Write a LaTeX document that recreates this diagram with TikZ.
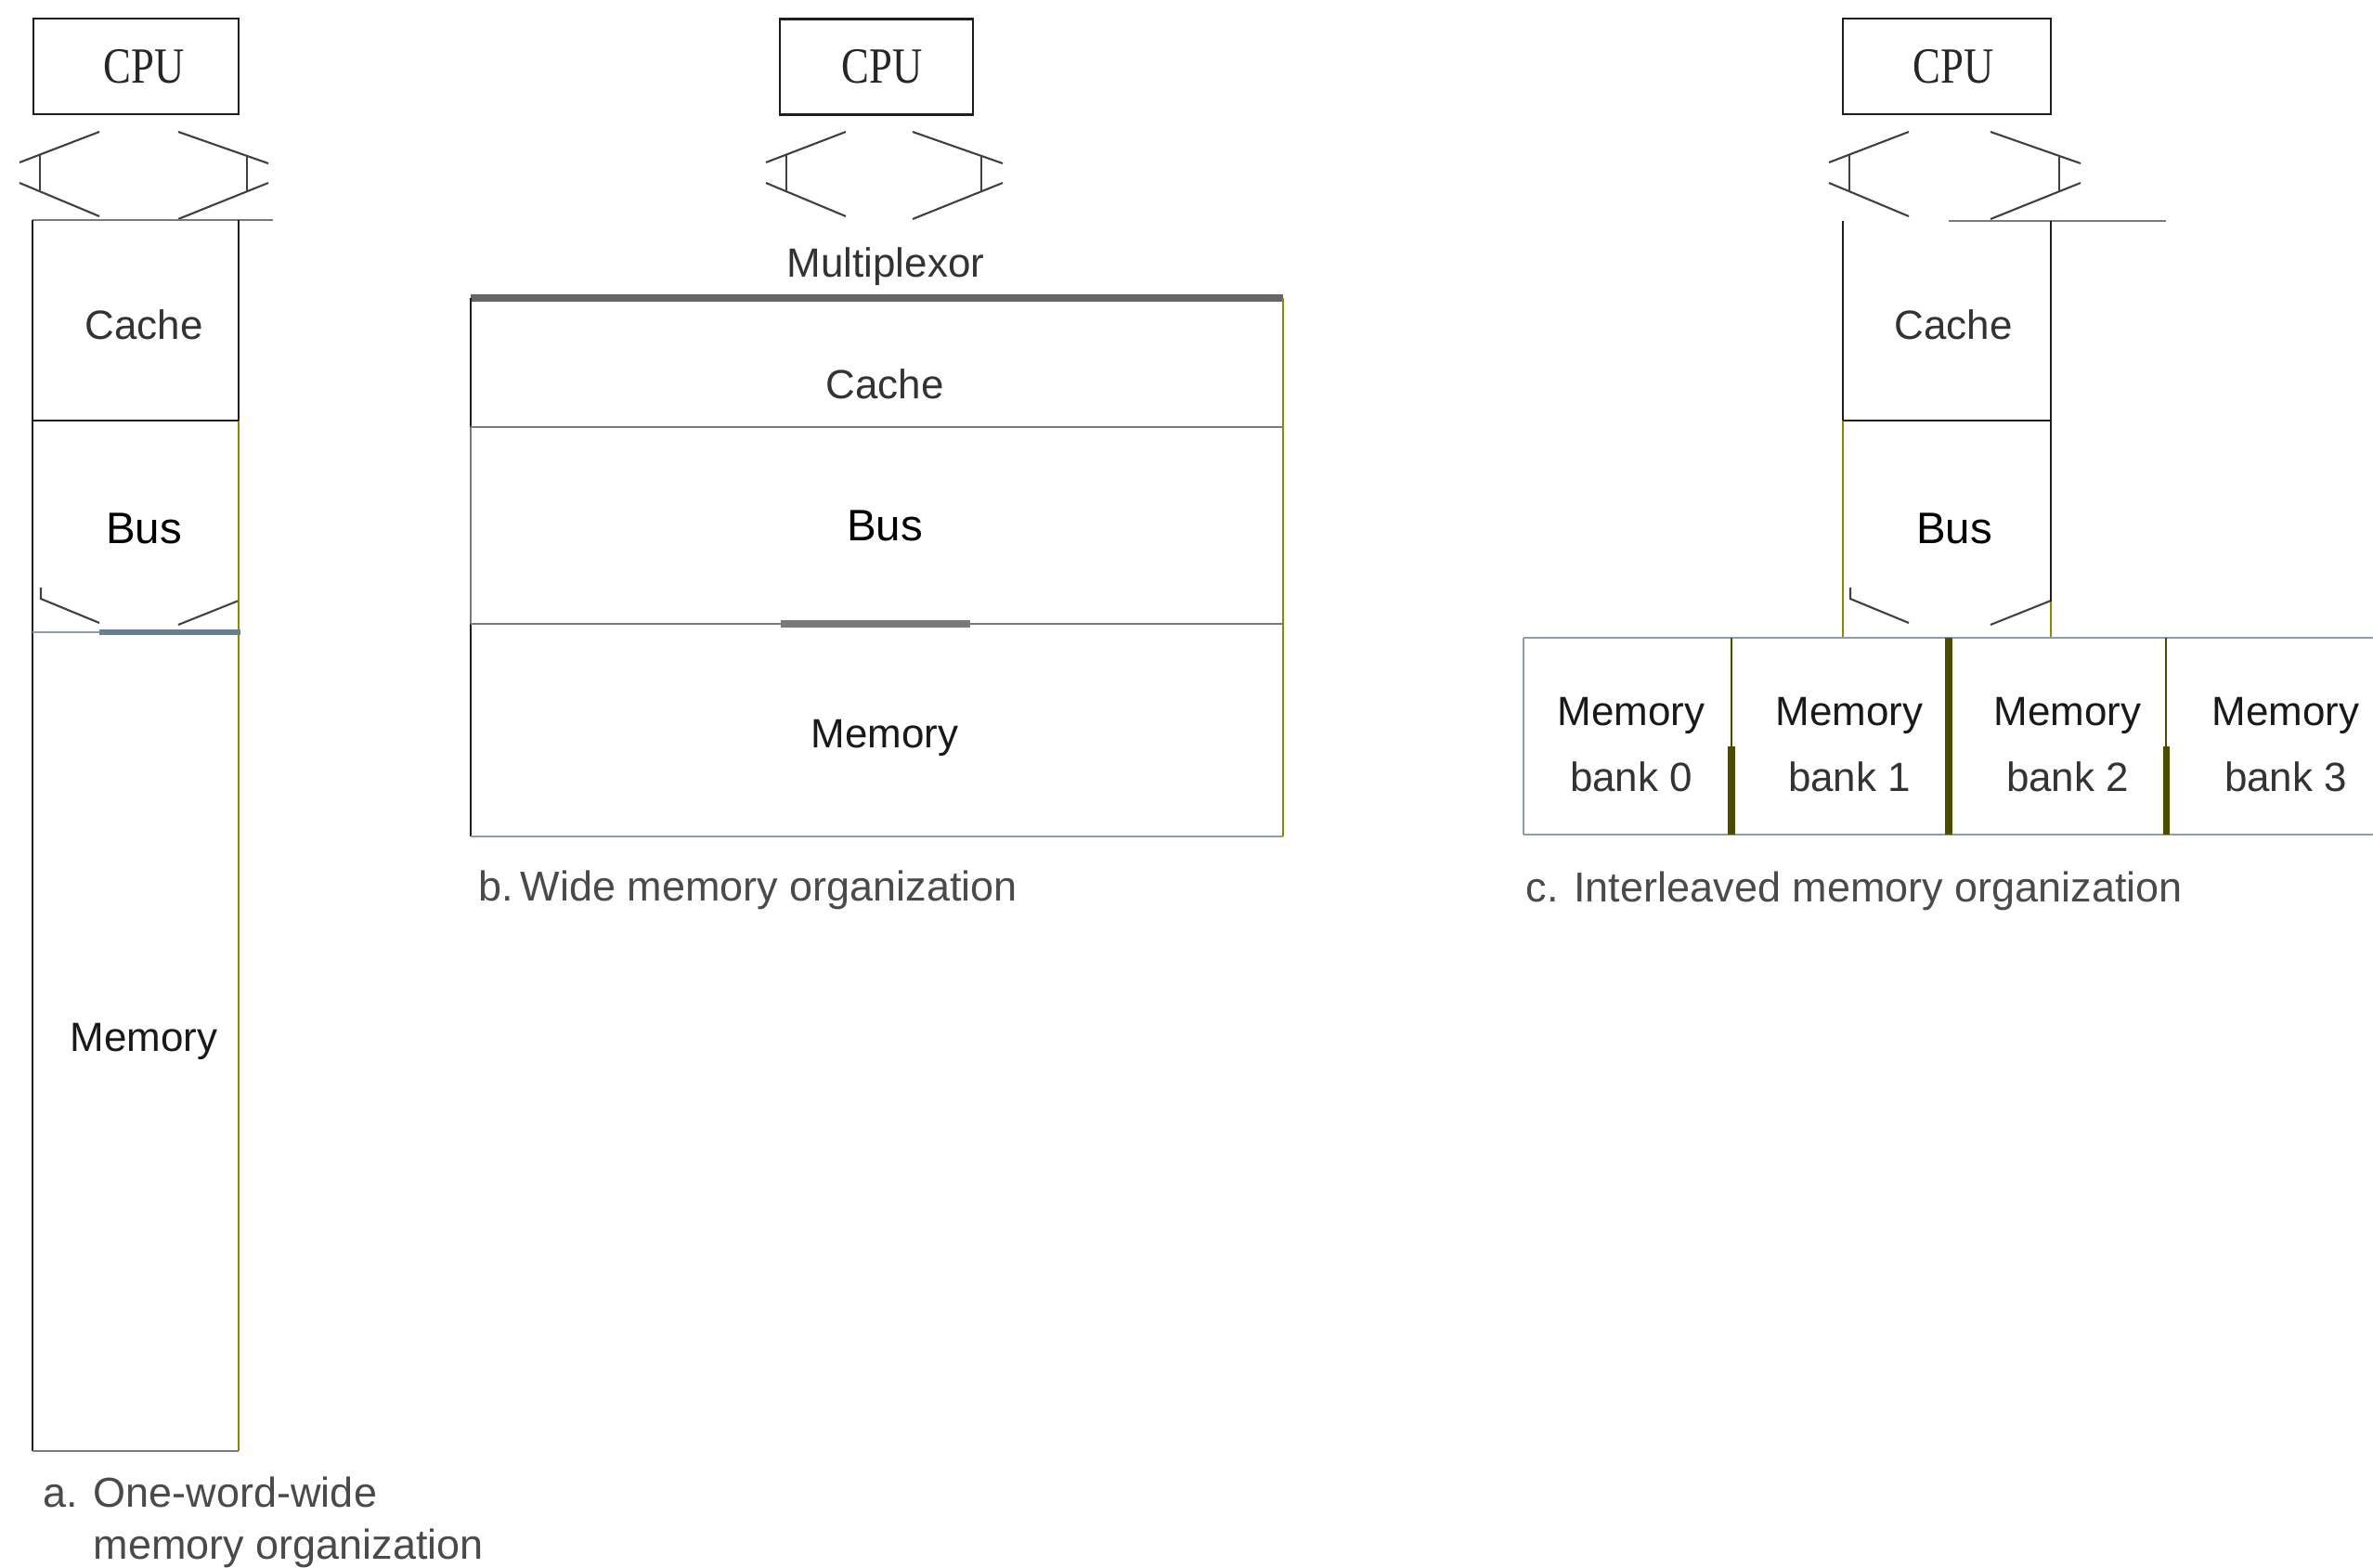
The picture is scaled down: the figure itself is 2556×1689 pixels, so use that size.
\documentclass[tikz,border=0pt]{standalone}
\usepackage{fontspec}
\setmainfont{Liberation Serif}
\setsansfont{Liberation Sans}
\usetikzlibrary{calc, positioning}
\definecolor{colBox}{HTML}{1E1E1A}
\definecolor{colGrayLine}{HTML}{7A7A7A}
\definecolor{colMuxBar}{HTML}{666666}
\definecolor{colOlive}{HTML}{8A8A00}
\definecolor{colBankBar}{HTML}{4C4C00}
\definecolor{colSteel}{HTML}{66808E}
\definecolor{colSteelThin}{HTML}{8C9DA7}
\definecolor{colText}{HTML}{333333}
\definecolor{colCaption}{HTML}{4A4A4A}

\begin{document}
\begin{tikzpicture}[x=0.01cm, y=-0.01cm, font=\sffamily\fontsize{12.5pt}{15pt}\selectfont,
    edge/.style={colBox, line width=0.6pt},
    thinedge/.style={colGrayLine, line width=0.6pt},
    oliveedge/.style={colOlive, line width=0.6pt},
    steeledge/.style={colSteelThin, line width=0.7pt},
    chevron/.style={black!75, line width=0.6pt},
    cpubox/.style={draw=colBox, line width=0.6pt, inner sep=0pt, minimum height=1.03cm,
      text=black!85, font=\rmfamily\fontsize{15.5pt}{18pt}\selectfont},
    boxtext/.style={text=colText, inner sep=0pt, anchor=base},
    bustext/.style={text=black, inner sep=0pt, anchor=base, font=\sffamily\fontsize{13.5pt}{15pt}\selectfont},
    captext/.style={text=colCaption, inner sep=0pt, anchor=base west, font=\sffamily\fontsize{12.8pt}{15pt}\selectfont}]
  \useasboundingbox (0,0) rectangle (2556,1689);

  % CPU boxes
  \node[cpubox, minimum width=2.21cm] (cpuA) at (146.5,71.5) {\hspace*{0.17cm}\scalebox{0.82}[1]{CPU}};
  \node[cpubox, minimum width=2.08cm] (cpuB) at (944,72) {\hspace*{0.12cm}\scalebox{0.82}[1]{CPU}};
  \node[cpubox, minimum width=2.24cm] (cpuC) at (2097,71.5) {\hspace*{0.14cm}\scalebox{0.82}[1]{CPU}};

  % Double arrows under each CPU (heads only, middle blanked)
  \foreach \cl/\cr in {36/257, 840/1048, 1985/2209} {
    \draw[chevron] ({\cl+71},142) -- ({\cl-15},175);
    \draw[chevron] ({\cl-15},197) -- ({\cl+71},233);
    \draw[chevron] ({\cl+7},167) -- ({\cl+7},206);
    \draw[chevron] ({\cr-65},142) -- ({\cr+32},176);
    \draw[chevron] ({\cr+32},197) -- ({\cr-65},236);
    \draw[chevron] ({\cr+9},168) -- ({\cr+9},206);
  }

  % Lower arrow heads above memory (a and c)
  \foreach \cl/\cr in {36/257, 1985/2209} {
    \draw[chevron] ({\cl+8},633) -- ({\cl+8},645) -- ({\cl+71},671);
    \draw[chevron] ({\cr-65},673) -- (\cr,647);
  }

  % a. One-word-wide
  \draw[thinedge] (35,237) -- (294,237);
  \draw[edge] (35,237) -- (35,1563);
  \draw[edge] (257,237) -- (257,453);
  \draw[oliveedge] (257,453) -- (257,1563);
  \draw[edge] (35,453) -- (257,453);
  \draw[steeledge] (35,681) -- (107,681);
  \draw[colSteel, line width=1.5pt] (107,681) -- (259,681);
  \draw[thinedge] (35,1563) -- (257,1563);
  \node[boxtext] (cacheA) at (155,366) {Cache};
  \node[bustext] (busA) at (155,586) {Bus};
  \node[boxtext, text=black!90] (memA) at (155,1133) {Memory};
  \node[captext] (capA) at (46,1624) {a. One-word-wide};
  \node[captext] (capA2) at (100,1680) {memory organization};

  % b. Wide
  \node[boxtext] (muxB) at (954,299) {Multiplexor};
  \draw[colMuxBar, line width=2pt] (507,321) -- (1382,321);
  \draw[edge] (507,321) -- (507,460);
  \draw[thinedge] (507,460) -- (507,672);
  \draw[edge] (507,672) -- (507,901);
  \draw[oliveedge] (1382,321) -- (1382,901);
  \draw[thinedge] (507,460) -- (1382,460);
  \draw[thinedge] (507,672) -- (1382,672);
  \draw[colGrayLine, line width=2pt] (841,672) -- (1045,672);
  \draw[steeledge] (507,901) -- (1382,901);
  \node[boxtext] (cacheB) at (953,430) {Cache};
  \node[bustext] (busB) at (953,583) {Bus};
  \node[boxtext, text=black!90] (memB) at (953,806) {Memory};
  \node[captext] (capB) at (515,971) {b.\,Wide memory organization};

  % c. Interleaved
  \draw[thinedge] (2099,238) -- (2333,238);
  \draw[edge] (1985,238) -- (1985,453);
  \draw[oliveedge] (1985,453) -- (1985,687);
  \draw[edge] (2209,238) -- (2209,648);
  \draw[oliveedge] (2209,648) -- (2209,687);
  \draw[edge] (1985,453) -- (2209,453);
  \node[boxtext] (cacheC) at (2104,366) {Cache};
  \node[bustext] (busC) at (2105,586) {Bus};

  % Memory banks
  \draw[steeledge] (1641,687) -- (2556,687);
  \draw[steeledge] (1641,899) -- (2556,899);
  \draw[steeledge] (1641,687) -- (1641,899);
  \draw[colBankBar, line width=0.6pt] (1865,687) -- (1865,804);
  \draw[colBankBar, line width=0.6pt] (2333,687) -- (2333,804);
  \foreach \dx/\dy in {1865/804, 2099/687, 2333/804} {
    \draw[colBankBar, line width=2pt] (\dx,\dy) -- (\dx,899);
  }
  \foreach \i/\bx in {0/1757, 1/1992, 2/2227, 3/2462} {
    \node[boxtext, text=black!90] (bankMem\i) at (\bx,782) {Memory};
    \node[boxtext] (bankNum\i) at (\bx,853) {bank \i};
  }
  \node[captext] (capC) at (1643,972) {c. Interleaved memory organization};
\end{tikzpicture}
\end{document}
